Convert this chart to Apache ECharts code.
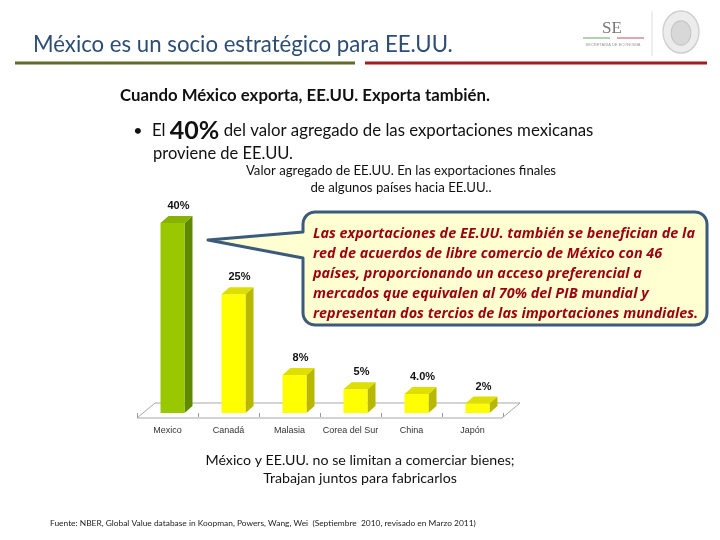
<!DOCTYPE html>
<html>
<head>
<meta charset="utf-8">
<script src="https://cdn.jsdelivr.net/npm/echarts@6/dist/echarts.min.js"></script>
<style>
html,body{margin:0;padding:0;background:#fff;}
#main{width:720px;height:540px;}
</style>
</head>
<body>
<div id="main"></div>
<script>
var categories = ['Mexico', 'Canadá', 'Malasia', 'Corea del Sur', 'China', 'Japón'];
var values = [40, 25, 8, 5, 4, 2];
var valueLabels = ['40%', '25%', '8%', '5%', '4.0%', '2%'];

var titleText = 'México es un socio estratégico para EE.UU.';
var subtitleText = 'Cuando México exporta, EE.UU. Exporta también.';
var calloutLines = [
  'Las exportaciones de EE.UU. también se benefician de la',
  'red de acuerdos de libre comercio de México con 46',
  'países, proporcionando un acceso preferencial a',
  'mercados que equivalen al 70% del PIB mundial y',
  'representan dos tercios de las importaciones mundiales.'
];
var chartTitleLines = ['Valor agregado de EE.UU. En las exportaciones finales', 'de algunos países hacia EE.UU..'];
var bottomLines = ['México y EE.UU. no se limitan a comerciar bienes;', 'Trabajan juntos para fabricarlos'];
var sourceText = 'Fuente: NBER, Global Value database in Koopman, Powers, Wang, Wei  (Septiembre  2010, revisado en Marzo 2011)';

var chart = echarts.init(document.getElementById('main'), null, {renderer: 'canvas'});

var FONT = 'Lato, "Open Sans", sans-serif';

function renderBar(params, api) {
  var i = api.value(0);
  var v = api.value(1);
  var top = api.coord([i, v]);
  var base = api.coord([i, 0]);
  var w = 24, dx = 8, dy = 7;
  var x0 = top[0] - 7;
  var y0 = top[1], y1 = base[1];
  var green = i === 0;
  var front = green ? '#99c800' : '#ffff00';
  var side = green ? '#5f8a00' : '#b8b800';
  var topc = green ? '#86b300' : '#dede00';
  return {
    type: 'group',
    children: [
      {type: 'polygon', shape: {points: [[x0 + w, y0], [x0 + w + dx, y0 - dy], [x0 + w + dx, y1 - dy], [x0 + w, y1]]}, style: {fill: side}},
      {type: 'rect', shape: {x: x0, y: y0, width: w, height: y1 - y0}, style: {fill: front}},
      {type: 'polygon', shape: {points: [[x0, y0], [x0 + dx, y0 - dy], [x0 + w + dx, y0 - dy], [x0 + w, y0]]}, style: {fill: topc}},
      {type: 'text', style: {text: valueLabels[i], x: top[0] + 11, y: y0 - 17, textAlign: 'center', textVerticalAlign: 'middle', fontSize: 11, fontWeight: 'bold', fontFamily: 'Arial, "Liberation Sans", sans-serif', fill: '#111'}}
    ]
  };
}

// callout outline: rounded rectangle with a pointer on its left side
function calloutPoints(x1, y1, x2, y2, r, tip, py1, py2) {
  var pts = [];
  function arc(cx, cy, a0, a1) {
    for (var k = 0; k <= 6; k++) {
      var a = a0 + (a1 - a0) * k / 6;
      pts.push([cx + r * Math.cos(a), cy + r * Math.sin(a)]);
    }
  }
  arc(x1 + r, y1 + r, Math.PI, Math.PI * 1.5);
  arc(x2 - r, y1 + r, Math.PI * 1.5, Math.PI * 2);
  arc(x2 - r, y2 - r, 0, Math.PI * 0.5);
  arc(x1 + r, y2 - r, Math.PI * 0.5, Math.PI);
  pts.push([x1, py2]);
  pts.push(tip);
  pts.push([x1, py1]);
  return pts;
}

var graphics = [
  // header
  {type: 'text', style: {text: titleText, x: 33, y: 45, textVerticalAlign: 'middle', fontSize: 22.2, fontFamily: FONT, fill: '#2c4d75'}},
  {type: 'line', shape: {x1: 15, y1: 63, x2: 355, y2: 63}, style: {stroke: '#5e6b2a', lineWidth: 3}},
  {type: 'line', shape: {x1: 365, y1: 63, x2: 707, y2: 63}, style: {stroke: '#a01d24', lineWidth: 3}},
  // SE logo
  {type: 'text', style: {text: 'SE', x: 612, y: 29, textAlign: 'center', textVerticalAlign: 'middle', fontSize: 17, fontFamily: '"Liberation Serif", serif', fill: '#777'}},
  {type: 'line', shape: {x1: 583, y1: 38, x2: 610, y2: 38}, style: {stroke: '#6aa06a', lineWidth: 1}},
  {type: 'line', shape: {x1: 617, y1: 38, x2: 644, y2: 38}, style: {stroke: '#c0506a', lineWidth: 1}},
  {type: 'text', style: {text: 'SECRETARÍA DE ECONOMÍA', x: 613, y: 45, textAlign: 'center', textVerticalAlign: 'middle', fontSize: 4, fontFamily: 'sans-serif', fill: '#999'}},
  {type: 'line', shape: {x1: 652, y1: 11, x2: 652, y2: 56}, style: {stroke: '#ddd', lineWidth: 1}},
  {type: 'circle', shape: {cx: 0, cy: 0, r: 20}, x: 681, y: 32, scaleX: 0.9, scaleY: 1.05, style: {fill: '#ececec', stroke: '#cfcfcf', lineWidth: 1.5}},
  {type: 'circle', shape: {cx: 0, cy: 0, r: 11}, x: 681, y: 33, scaleX: 0.9, scaleY: 1.1, style: {fill: '#d8d8d8', stroke: '#c4c4c4', lineWidth: 1}},
  // texts
  {type: 'text', style: {text: subtitleText, x: 120, y: 96, textVerticalAlign: 'middle', fontSize: 16.8, fontWeight: 'bold', fontFamily: FONT, fill: '#111'}},
  {type: 'text', style: {text: '•', x: 138, y: 131, textAlign: 'center', textVerticalAlign: 'middle', fontSize: 16, fontFamily: FONT, fill: '#111'}},
  {type: 'text', style: {
    text: '{a|El }{b|40%}{a| del valor agregado de las exportaciones mexicanas}',
    x: 152, y: 131, textVerticalAlign: 'middle',
    rich: {a: {fontSize: 16.8, fontFamily: FONT, fill: '#111'}, b: {fontSize: 25, fontWeight: 'bold', fontFamily: FONT, fill: '#111'}}
  }},
  {type: 'text', style: {text: 'proviene de EE.UU.', x: 153, y: 154, textVerticalAlign: 'middle', fontSize: 16.5, fontFamily: FONT, fill: '#111'}},
  {type: 'text', style: {text: chartTitleLines.join('\n'), x: 401, y: 179, textAlign: 'center', textVerticalAlign: 'middle', fontSize: 13.2, lineHeight: 17, fontFamily: FONT, fill: '#111'}},
  // floor
  {type: 'polygon', z: -1, shape: {points: [[137, 418], [502, 418], [520, 403], [155, 403]]}, style: {fill: '#fff', stroke: '#a8a8a8', lineWidth: 1}},
  // callout
  {type: 'polygon', z: 10, shape: {points: calloutPoints(303, 212, 707, 325, 12, [208, 240], 232, 258)}, style: {fill: '#ffffd2', stroke: '#3c5a7c', lineWidth: 3, lineJoin: 'round'}},
  {type: 'text', z: 11, style: {text: calloutLines.join('\n'), x: 313, y: 274, textVerticalAlign: 'middle', fontSize: 14.4, lineHeight: 20, fontStyle: 'italic', fontWeight: 'bold', fontFamily: '"Open Sans", sans-serif', fill: '#9c0010'}},
  // bottom
  {type: 'text', style: {text: bottomLines.join('\n'), x: 360, y: 469, textAlign: 'center', textVerticalAlign: 'middle', fontSize: 14.2, lineHeight: 18, fontFamily: FONT, fill: '#111'}},
  {type: 'text', style: {text: sourceText, x: 50, y: 523, textVerticalAlign: 'middle', fontSize: 8.4, fontFamily: FONT, fill: '#222'}}
];

chart.setOption({
  animation: false,
  backgroundColor: '#fff',
  grid: {left: 137, width: 366, top: 223, height: 190, containLabel: false},
  xAxis: {
    type: 'category',
    data: categories,
    offset: 5,
    axisLine: {show: false},
    axisTick: {show: true, length: 4, lineStyle: {color: '#999'}},
    axisLabel: {interval: 0, fontSize: 9, color: '#333', margin: 8, fontFamily: 'Arial, "Liberation Sans", sans-serif'}
  },
  yAxis: {type: 'value', min: 0, max: 40, show: false, splitLine: {show: false}},
  series: [{
    type: 'custom',
    renderItem: renderBar,
    data: values.map(function (v, i) { return [i, v]; }),
    encode: {x: 0, y: 1},
    clip: false,
    z: 5
  }],
  graphic: {elements: graphics}
});
</script>
</body>
</html>
